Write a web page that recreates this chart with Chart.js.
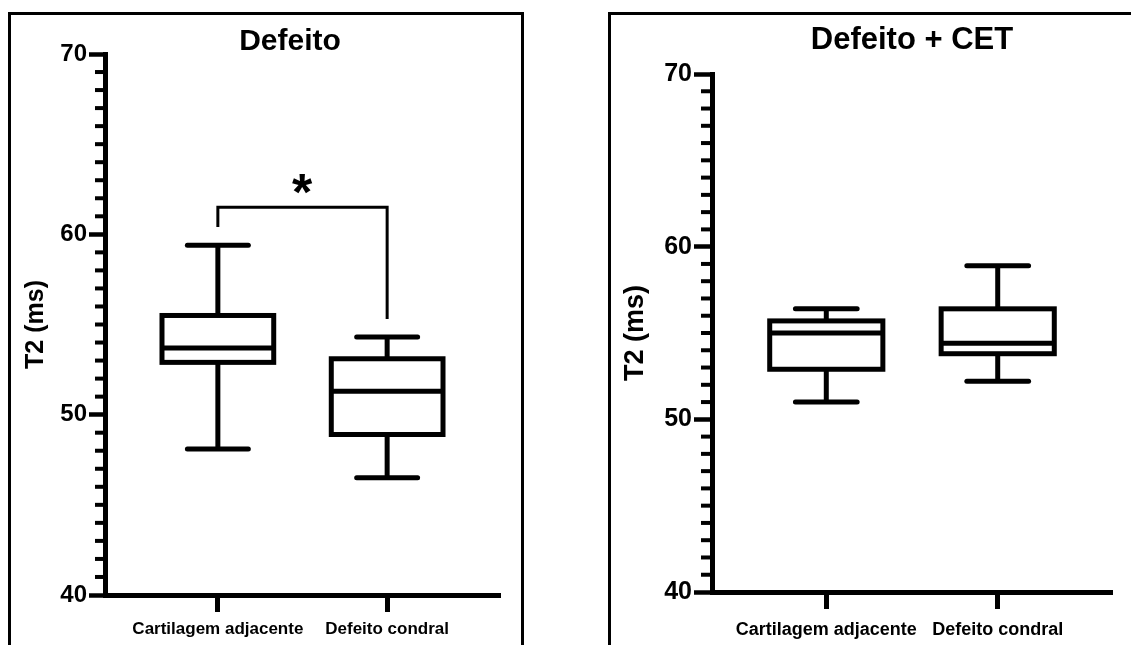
<!DOCTYPE html>
<html>
<head>
<meta charset="utf-8">
<script src="https://cdn.jsdelivr.net/npm/chart.js@4.4.1/dist/chart.umd.min.js"></script>
<style>
  html, body { margin:0; padding:0; background:#fff; }
  body { width:1131px; height:645px; overflow:hidden; position:relative; }
  .panel { position:absolute; border:3px solid #000; box-sizing:border-box; background:#fff; }
  #p1 { left:8px; top:12px; width:516px; height:650px; }
  #p2 { left:608px; top:12px; width:540px; height:650px; }
  .panel canvas { position:absolute; left:0; top:0; }
</style>
</head>
<body>
<div class="panel" id="p1"><canvas id="c1" width="510" height="640" style="width:510px;height:640px"></canvas></div>
<div class="panel" id="p2"><canvas id="c2" width="534" height="640" style="width:534px;height:640px"></canvas></div>
<script>
// data
const categories = ['Cartilagem adjacente', 'Defeito condral'];
const yTicks = [40, 50, 60, 70];
// [min, q1, median, q3, max]
const defeitoCartilagem = [48.1, 52.9, 53.7, 55.5, 59.4];
const defeitoCondral = [46.5, 48.9, 51.3, 53.1, 54.3];
const cetCartilagem = [51.0, 52.9, 55.0, 55.7, 56.4];
const cetCondral = [52.2, 53.8, 54.4, 56.4, 58.9];
// bracket: top level, left leg end, right leg end
const defeitoBracket = [61.5, 60.4, 55.3];
const defeitoStar = ['*', 62.8];

const FONT = '"Liberation Sans", Arial, Helvetica, sans-serif';
Chart.defaults.color = '#000';
Chart.defaults.font.family = FONT;

function line(ctx, x1, y1, x2, y2) {
    ctx.beginPath();
    ctx.moveTo(x1, y1);
    ctx.lineTo(x2, y2);
    ctx.stroke();
}

// boxes, whiskers, minor ticks, title, significance mark
const boxPlot = {
    id: 'boxPlot',
    afterDraw(chart, args, o) {
        const ctx = chart.ctx, x = chart.scales.x, y = chart.scales.y;
        ctx.save();
        ctx.strokeStyle = '#000';

        // minor ticks on y
        ctx.lineWidth = 4;
        const ax = chart.chartArea.left;
        for (let v = y.min; v <= y.max; v++) {
            if (v % 10 === 0) continue;
            const py = y.getPixelForValue(v);
            line(ctx, ax - o.minorLen, py, ax, py);
        }

        // boxes
        o.boxes.forEach((b, i) => {
            const c = i + 1;
            const xl = x.getPixelForValue(c - 0.33), xr = x.getPixelForValue(c + 0.33);
            const cl = x.getPixelForValue(c - 0.18), cr = x.getPixelForValue(c + 0.18);
            const xc = x.getPixelForValue(c);
            const [mn, q1, md, q3, mx] = b.map(v => y.getPixelForValue(v));
            ctx.lineWidth = 5;
            ctx.lineCap = 'butt';
            ctx.strokeRect(xl, q3, xr - xl, q1 - q3);
            line(ctx, xl, md, xr, md);
            line(ctx, xc, q3, xc, mx);
            line(ctx, xc, q1, xc, mn);
            ctx.lineCap = 'round';
            line(ctx, cl, mx, cr, mx);
            line(ctx, cl, mn, cr, mn);
        });

        // significance bracket
        if (o.bracket) {
            const [top, l, r] = o.bracket.map(v => y.getPixelForValue(v));
            const x1 = x.getPixelForValue(1), x2 = x.getPixelForValue(2);
            ctx.lineWidth = 3;
            ctx.lineCap = 'butt';
            ctx.beginPath();
            ctx.moveTo(x1, l);
            ctx.lineTo(x1, top);
            ctx.lineTo(x2, top);
            ctx.lineTo(x2, r);
            ctx.stroke();
            ctx.font = 'bold 52px ' + FONT;
            ctx.fillStyle = '#000';
            const m = ctx.measureText(o.star[0]);
            const sx = x.getPixelForValue(1.5) - (m.actualBoundingBoxRight - m.actualBoundingBoxLeft) / 2;
            const sy = y.getPixelForValue(o.star[1]) + (m.actualBoundingBoxAscent - m.actualBoundingBoxDescent) / 2;
            ctx.textAlign = 'left';
            ctx.textBaseline = 'alphabetic';
            ctx.fillText(o.star[0], sx + m.actualBoundingBoxLeft, sy);
        }

        // title
        ctx.font = 'bold ' + o.titleSize + 'px ' + FONT;
        ctx.fillStyle = '#000';
        ctx.textAlign = 'center';
        ctx.textBaseline = 'alphabetic';
        ctx.fillText(o.title, o.titleX, o.titleY);
        ctx.restore();
    }
};

function makeChart(id, boxes, s) {
    return new Chart(document.getElementById(id), {
        type: 'scatter',
        data: { datasets: [] },
        options: {
            responsive: false,
            animation: false,
            layout: { padding: { top: s.top, right: s.right, left: 0, bottom: 0 } },
            plugins: {
                legend: { display: false },
                tooltip: { enabled: false },
                boxPlot: {
                    boxes: boxes, bracket: s.bracket, star: s.star,
                    title: s.title, titleSize: s.titleSize, titleX: s.titleX, titleY: s.titleY,
                    minorLen: s.minorLen
                }
            },
            scales: {
                x: {
                    type: 'linear', min: 1 / 3, max: 8 / 3,
                    afterBuildTicks: sc => { sc.ticks = categories.map((c, i) => ({ value: i + 1 })); },
                    afterFit: sc => { sc.height = s.xHeight; },
                    border: { color: '#000', width: 5 },
                    grid: { drawOnChartArea: false, tickLength: 17, tickWidth: 5, tickColor: '#000' },
                    ticks: {
                        callback: v => categories[v - 1],
                        font: { size: s.xFont, weight: 'bold' },
                        padding: s.xPad, maxRotation: 0, autoSkip: false
                    }
                },
                y: {
                    min: 40, max: 70,
                    afterBuildTicks: sc => { sc.ticks = yTicks.map(v => ({ value: v })); },
                    afterFit: sc => { sc.width = s.yWidth; },
                    border: { color: '#000', width: 5 },
                    grid: { drawOnChartArea: false, tickLength: s.majorLen, tickWidth: 4.5, tickColor: '#000' },
                    ticks: { font: { size: s.yFont, weight: 'bold' }, padding: 2 },
                    title: {
                        display: true, text: 'T2 (ms)',
                        font: { size: s.yTitle, weight: 'bold' },
                        padding: { top: s.yTitlePad, bottom: 0 }
                    }
                }
            }
        },
        plugins: [boxPlot]
    });
}

makeChart('c1', [defeitoCartilagem, defeitoCondral], {
    top: 39, right: 21, yWidth: 94, xHeight: 60, xPad: 7, xFont: 17, yFont: 24,
    yTitle: 25, yTitlePad: 10, majorLen: 16, minorLen: 10,
    title: 'Defeito', titleSize: 30, titleX: 279, titleY: 35,
    bracket: defeitoBracket, star: defeitoStar
});

makeChart('c2', [cetCartilagem, cetCondral], {
    top: 59, right: 33, yWidth: 101, xHeight: 63, xPad: 10, xFont: 18, yFont: 25,
    yTitle: 27, yTitlePad: 8, majorLen: 18, minorLen: 11,
    title: 'Defeito + CET', titleSize: 31, titleX: 301, titleY: 34
});
</script>
</body>
</html>
